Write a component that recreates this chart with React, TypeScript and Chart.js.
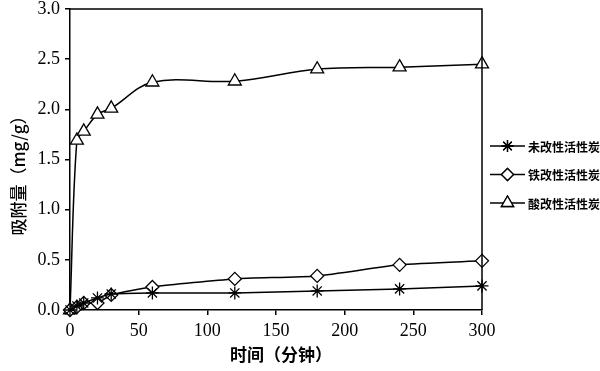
import React, { useEffect, useRef } from 'react';
import { Chart, registerables } from 'chart.js';
import { drawPoint } from 'chart.js/helpers';

Chart.register(...registerables);

const times = [0, 5, 10, 20, 30, 60, 120, 180, 240, 300];
const unmodified = [0, 0.04, 0.07, 0.12, 0.16, 0.17, 0.17, 0.19, 0.21, 0.24];
const ironModified = [0, 0.03, 0.07, 0.07, 0.15, 0.23, 0.31, 0.34, 0.45, 0.49];
const acidModified = [0, 1.69, 1.78, 1.95, 2.01, 2.27, 2.28, 2.4, 2.42, 2.45];
const seriesNames = ['未改性活性炭', '铁改性活性炭', '酸改性活性炭'];
const pointStyles = ['star', 'rectRot', 'triangle'];
const pointRadii = [6.5, 6.5, 7.5];
const xTitle = '时间（分钟）';
const yTitle = '吸附量（mg/g）';

const CJK = '"Noto Sans CJK SC", "Noto Sans", sans-serif';
const SERIF = '"Liberation Serif", "DejaVu Serif", serif';

const decor = {
  id: 'decor',
  afterDraw(chart: any) {
    const { ctx, chartArea: a } = chart;
    ctx.save();
    ctx.strokeStyle = '#000';
    ctx.lineWidth = 1.5;
    ctx.beginPath();
    ctx.moveTo(a.left, a.top);
    ctx.lineTo(a.right, a.top);
    ctx.lineTo(a.right, a.bottom);
    ctx.stroke();

    ctx.fillStyle = '#000';
    ctx.textAlign = 'center';
    ctx.textBaseline = 'middle';
    ctx.font = 'bold 17px ' + CJK;
    ctx.fillText(xTitle, (a.left + a.right) / 2 + 5, a.bottom + 45);

    ctx.save();
    ctx.translate(19, (a.top + a.bottom) / 2 + 12);
    ctx.rotate(-Math.PI / 2);
    ctx.font = '500 17px ' + CJK;
    ctx.fillText(yTitle, 0, 0);
    ctx.restore();

    // legend
    const x0 = a.right + 8;
    const x1 = a.right + 43;
    const y0 = a.top + 137;
    const gap = 28.5;
    ctx.font = 'bold 12px ' + CJK;
    ctx.textAlign = 'left';
    seriesNames.forEach((name, i) => {
      const y = y0 + i * gap;
      ctx.strokeStyle = '#000';
      ctx.lineWidth = 1.5;
      ctx.beginPath();
      ctx.moveTo(x0, y);
      ctx.lineTo(x1, y);
      ctx.stroke();
      ctx.fillStyle = '#fff';
      ctx.lineWidth = 1.3;
      drawPoint(ctx, { pointStyle: pointStyles[i] as any, radius: pointRadii[i] - 0.5, rotation: 0, borderWidth: 1.3 } as any, (x0 + x1) / 2, y);
      ctx.fill();
      ctx.stroke();
      ctx.fillStyle = '#000';
      ctx.fillText(name, x1 + 3, y + 1);
    });
    ctx.restore();
  },
};

export default function App() {
  const ref = useRef<HTMLCanvasElement>(null);
  useEffect(() => {
    if (!ref.current) return;
    const values = [unmodified, ironModified, acidModified];
    const chart = new Chart(ref.current, {
      type: 'line',
      data: {
        datasets: values.map((arr, i) => ({
          label: seriesNames[i],
          data: times.map((t, j) => ({ x: t, y: arr[j] })),
          borderColor: '#000',
          borderWidth: 1.5,
          backgroundColor: '#fff',
          pointBackgroundColor: '#fff',
          pointBorderColor: '#000',
          pointBorderWidth: 1.3,
          pointStyle: pointStyles[i] as any,
          pointRadius: pointRadii[i],
          tension: i === 2 ? 0.35 : 0.2,
          fill: false,
          clip: false as any,
        })),
      },
      options: {
        responsive: false,
        animation: false,
        layout: { padding: { left: 0, right: 118, top: 9, bottom: 0 } },
        plugins: { legend: { display: false }, tooltip: { enabled: false } },
        scales: {
          x: {
            type: 'linear',
            min: 0,
            max: 300,
            afterFit: (s: any) => { s.height = 61; },
            ticks: { stepSize: 50, color: '#000', font: { family: SERIF, size: 18 }, padding: 5, maxRotation: 0 },
            grid: { display: true, drawOnChartArea: false, tickLength: 5, color: '#000', lineWidth: 1.5 },
            border: { color: '#000', width: 1.5 },
          },
          y: {
            min: 0,
            max: 3,
            afterFit: (s: any) => { s.width = 70; s.paddingTop = 0; s.paddingBottom = 0; },
            ticks: { stepSize: 0.5, color: '#000', font: { family: SERIF, size: 18 }, padding: 5, callback: (v: any) => Number(v).toFixed(1) },
            grid: { display: true, drawOnChartArea: false, tickLength: 5, color: '#000', lineWidth: 1.5 },
            border: { color: '#000', width: 1.5 },
          },
        },
      },
      plugins: [decor],
    });
    return () => chart.destroy();
  }, []);
  return (
    <div style={{ position: 'fixed', left: 0, top: 0, width: 600, height: 371, background: '#fff' }}>
      <canvas ref={ref} width={600} height={371} />
    </div>
  );
}
